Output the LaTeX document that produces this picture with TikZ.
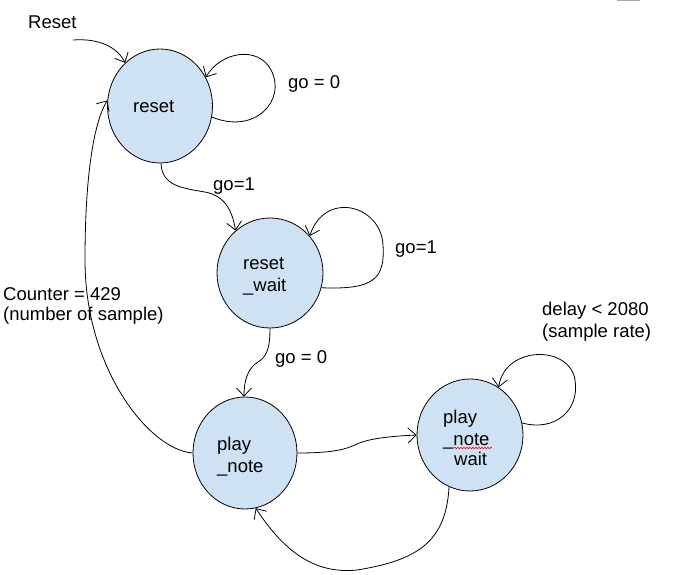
\documentclass[tikz,border=0pt]{standalone}
\usepackage{fontspec}
\setmainfont{Liberation Sans}
\usetikzlibrary{shapes.geometric,arrows.meta,decorations.pathmorphing}
\definecolor{stfill}{HTML}{CFE2F3}
\begin{document}
\begin{tikzpicture}[x=1pt,y=-1pt,
  state/.style={ellipse,draw=black,line width=0.8pt,fill=stfill,inner sep=0pt,minimum width=105pt,minimum height=112pt},
  txt/.style={font=\fontsize{18.5}{22}\selectfont,inner sep=0pt,anchor=base west},
  edge/.style={draw=black,line width=0.8pt,-{Straight Barb[length=8pt,width=15pt,line width=0.8pt]}}]
\useasboundingbox (0,0) rectangle (677,575);
% states
\node[state,minimum height=114pt] (reset) at (160,106) {};
\node[state,minimum width=106pt,minimum height=110pt] (rwait) at (270,273) {};
\node[state,minimum width=104pt] (pnote) at (245,453) {};
\node[state,minimum width=106pt] (pnwait) at (470,435) {};
% state texts
\node[txt] (t1) at (133,113) {reset};
\node[txt] (t2) at (243,269) {reset};
\node[txt] (t3) at (243,291) {\_wait};
\node[txt] (t4) at (217,450) {play};
\node[txt] (t5) at (217,472) {\_note};
\node[txt] (t6) at (443,423) {play};
\node[txt] (t7) at (443,445) {\_note};
\node[txt] (t8) at (454,465) {wait};
\coordinate (sq1) at (454,448);
\coordinate (sq2) at (492,448);
\draw[red,line width=0.6pt,decorate,decoration={snake,amplitude=0.8pt,segment length=3pt}] (sq1) -- (sq2);
% labels
\node[txt] (lReset) at (28,29) {Reset};
\node[txt] (l1) at (288,89) {go = 0};
\node[txt] (l2) at (213,190) {go=1};
\node[txt] (l3) at (395,253) {go=1};
\node[txt] (l4) at (275,363) {go = 0};
\node[txt] (l5) at (3,300) {Counter = 429};
\node[txt] (l6) at (3,320) {(number of sample)};
\node[txt] (l7) at (542,315) {delay < 2080};
\node[txt] (l8) at (542,337) {(sample rate)};
% connectors
\coordinate (init) at (73,40);
\draw[edge] (init) .. controls (100,38) and (118,48) .. (reset.129);
\draw[edge] (reset.-12) .. controls (255,135) and (287,100) .. (271,70) .. controls (258,45) and (220,52) .. (reset.32);
\draw[edge] (reset.-89) .. controls (162,185) and (180,188) .. (205,192) .. controls (225,196) and (232,210) .. (rwait.129);
\draw[edge] (rwait.-16) .. controls (375,290) and (385,278) .. (383,245) .. controls (381,205) and (325,190) .. (rwait.43);
\draw[edge] (rwait.-90) .. controls (270,350) and (266,357) .. (258,362) .. controls (248,368) and (244,380) .. (pnote.91);
\draw[edge] (pnote.180) .. controls (150,450) and (85,370) .. (85,260) .. controls (85,170) and (95,120) .. (reset.174);
\draw[edge] (pnote.0) .. controls (330,453) and (345,450) .. (357,444) .. controls (370,438) and (395,436) .. (pnwait.180);
\draw[edge] (pnwait.-112) .. controls (446,540) and (420,560) .. (357,570) .. controls (310,575) and (280,545) .. (pnote.-79);
\draw[edge] (pnwait.13) .. controls (555,432) and (580,410) .. (575,380) .. controls (570,345) and (505,345) .. (pnwait.59);
% small marks
\coordinate (g1) at (617,1);
\coordinate (g2) at (640,1);
\draw[gray!70,line width=1pt] (g1) -- (g2);
\end{tikzpicture}
\end{document}
